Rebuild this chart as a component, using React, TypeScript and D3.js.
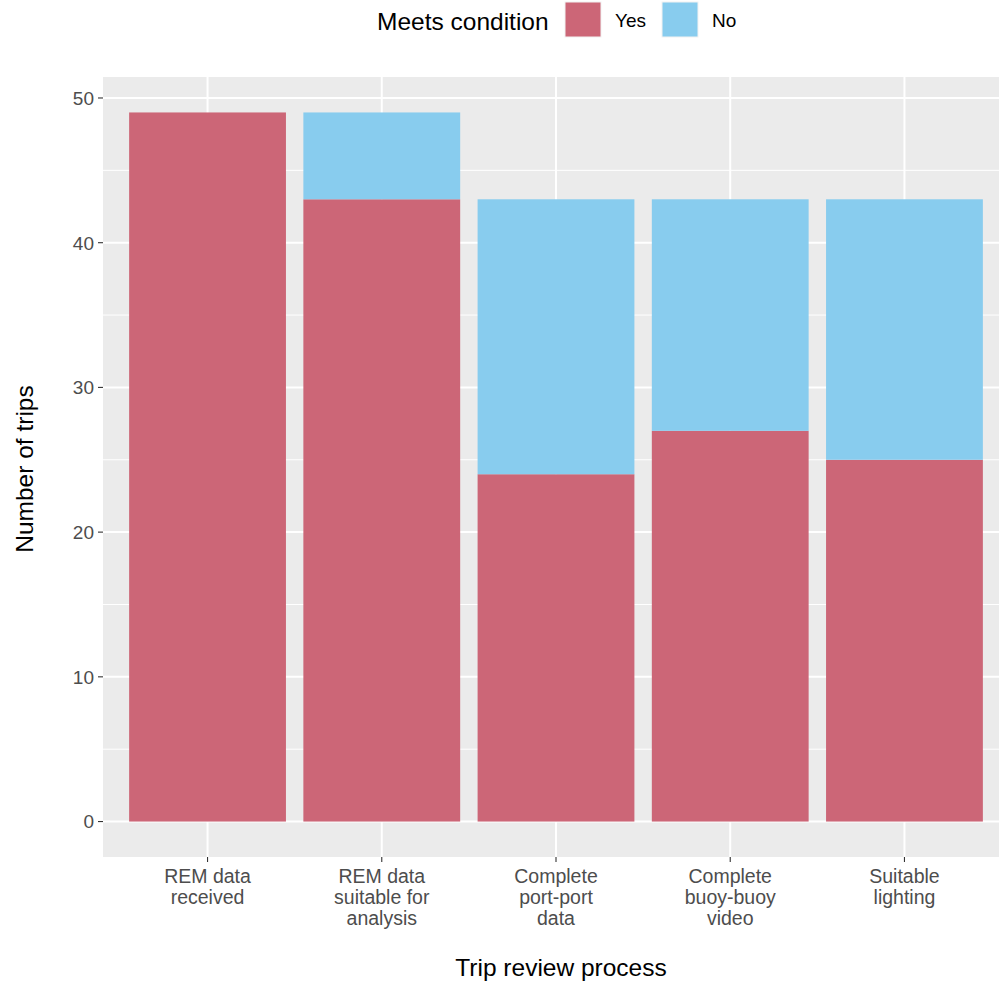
import React from 'react';
import * as d3 from 'd3';

const categories = [
  'REM data\nreceived',
  'REM data\nsuitable for\nanalysis',
  'Complete\nport-port\ndata',
  'Complete\nbuoy-buoy\nvideo',
  'Suitable\nlighting',
];
const yesValues = [49, 43, 24, 27, 25];
const noValues = [0, 6, 19, 16, 18];
const yTicks = [0, 10, 20, 30, 40, 50];
const seriesNames = ['Yes', 'No'];
const seriesColors = ['#CC6677', '#88CCEE'];

const W = 999;
const H = 986;
const panel = { left: 103, right: 1009, top: 77, bottom: 857 };
const font = '"Liberation Sans", Arial, sans-serif';

export default function App() {
  const totals = yesValues.map((v, i) => v + noValues[i]);
  const maxTotal = d3.max(totals) || 0;
  const pad = maxTotal * 0.05;

  // ggplot-like discrete scale: 0.6 step of expansion on each side, bars 0.9 wide
  const x = d3
    .scaleBand<number>()
    .domain(d3.range(categories.length))
    .range([panel.left, panel.right])
    .paddingInner(0.1)
    .paddingOuter(0.15);

  const y = d3
    .scaleLinear()
    .domain([-pad, maxTotal + pad])
    .range([panel.bottom, panel.top]);

  const minorY = yTicks.slice(0, -1).map((t, i) => (t + yTicks[i + 1]) / 2);

  const stacked = d3
    .stack<number>()
    .keys(['0', '1'])
    .value((i, k) => (k === '0' ? yesValues[i] : noValues[i]))(d3.range(categories.length));

  const cx = (i: number) => x(i)! + x.bandwidth() / 2;

  return (
    <svg width={W} height={H} style={{ position: 'absolute', left: 0, top: 0 }} fontFamily={font}>
      <rect x={0} y={0} width={W} height={H} fill="#fff" />
      <rect
        x={panel.left}
        y={panel.top}
        width={panel.right - panel.left}
        height={panel.bottom - panel.top}
        fill="#EBEBEB"
      />
      {minorY.map(t => (
        <line key={'my' + t} x1={panel.left} x2={panel.right} y1={y(t)} y2={y(t)} stroke="#fff" strokeWidth={1} />
      ))}
      {yTicks.map(t => (
        <line key={'gy' + t} x1={panel.left} x2={panel.right} y1={y(t)} y2={y(t)} stroke="#fff" strokeWidth={2} />
      ))}
      {categories.map((c, i) => (
        <line key={'gx' + i} x1={cx(i)} x2={cx(i)} y1={panel.top} y2={panel.bottom} stroke="#fff" strokeWidth={2} />
      ))}
      {stacked.map((s, si) =>
        s.map((d, i) =>
          d[1] - d[0] > 0 ? (
            <rect
              key={si + '-' + i}
              x={x(i)}
              width={x.bandwidth()}
              y={y(d[1])}
              height={y(d[0]) - y(d[1])}
              fill={seriesColors[si]}
            />
          ) : null
        )
      )}
      {/* y axis */}
      {yTicks.map(t => (
        <g key={'ty' + t}>
          <line x1={panel.left - 5} x2={panel.left} y1={y(t)} y2={y(t)} stroke="#333" strokeWidth={1.1} />
          <text x={panel.left - 9} y={y(t)} dy="0.36em" textAnchor="end" fontSize={19} fill="#4D4D4D">
            {t}
          </text>
        </g>
      ))}
      {/* x axis */}
      {categories.map((c, i) => (
        <g key={'tx' + i}>
          <line x1={cx(i)} x2={cx(i)} y1={panel.bottom} y2={panel.bottom + 5} stroke="#333" strokeWidth={1.1} />
          <text x={cx(i)} y={panel.bottom + 26} textAnchor="middle" fontSize={19.5} fill="#4D4D4D">
            {c.split('\n').map((line, li) => (
              <tspan key={li} x={cx(i)} dy={li === 0 ? 0 : 21}>
                {line}
              </tspan>
            ))}
          </text>
        </g>
      ))}
      <text x={561} y={976} textAnchor="middle" fontSize={24.5} fill="#000">
        Trip review process
      </text>
      <text
        transform={`translate(33,${(panel.top + panel.bottom) / 2 + 2}) rotate(-90)`}
        textAnchor="middle"
        fontSize={24.5}
        fill="#000"
      >
        Number of trips
      </text>
      {/* legend */}
      <text x={377} y={30} fontSize={24.5} fill="#000">
        Meets condition
      </text>
      {seriesNames.map((n, i) => {
        const kx = 565 + i * 97;
        return (
          <g key={n}>
            <rect x={kx} y={2} width={36} height={35} fill={seriesColors[i]} stroke="#F2F2F2" strokeWidth={1} />
            <text x={kx + 50} y={27} fontSize={19} fill="#000">
              {n}
            </text>
          </g>
        );
      })}
    </svg>
  );
}
